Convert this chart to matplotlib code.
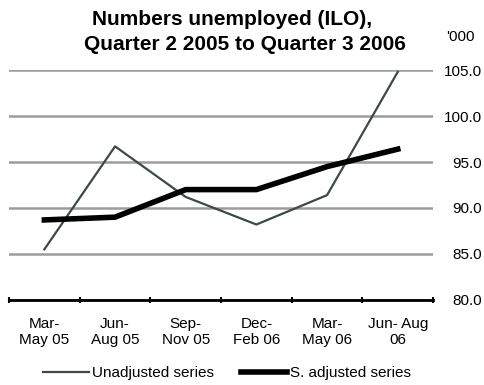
import matplotlib.pyplot as plt
import numpy as np

plt.rcParams['font.family'] = ['Liberation Sans', 'DejaVu Sans']

# Data (thousands)
quarters = ['Mar-\nMay 05', 'Jun-\nAug 05', 'Sep-\nNov 05', 'Dec-\nFeb 06', 'Mar-\nMay 06', 'Jun- Aug\n06']
unadjusted = [85.5, 96.7, 91.2, 88.2, 91.4, 104.8]
seasonally_adjusted = [88.7, 89.0, 92.0, 92.0, 94.5, 96.4]
y_ticks = [80, 85, 90, 95, 100, 105]

fig = plt.figure(figsize=(4.85, 3.85), dpi=100)
ax = fig.add_axes([0.0186, 0.221, 0.8744, 0.597])

x = np.arange(len(quarters))
ax.plot(x, unadjusted, color='#3d4848', linewidth=1.6, label='Unadjusted series')
ax.plot(x, seasonally_adjusted, color='black', linewidth=4, label='S. adjusted series')

ax.set_xlim(-0.5, len(quarters) - 0.5)
ax.set_ylim(80, 105)
ax.set_yticks(y_ticks)
ax.set_yticklabels(['%.1f' % v for v in y_ticks], fontsize=11, ha='right')
ax.yaxis.tick_right()
ax.tick_params(axis='y', length=0, pad=35)
ax.grid(axis='y', color='#9c9c9c', linewidth=1.8)
ax.set_axisbelow(True)

ax.set_xticks(x)
ax.set_xticklabels(quarters, fontsize=11, linespacing=1.25)
ax.set_xticks(np.arange(-0.5, len(quarters)), minor=True)
ax.tick_params(axis='x', which='major', length=0, pad=12)
ax.tick_params(axis='x', which='minor', length=5, width=1.5, direction='inout', color='black')

for s in ['left', 'right', 'top']:
    ax.spines[s].set_visible(False)
ax.spines['bottom'].set_linewidth(2)
ax.spines['bottom'].set_color('black')

fig.text(0.478, 0.95, 'Numbers unemployed (ILO),', ha='center', va='center',
         fontsize=15, fontweight='bold')
fig.text(0.505, 0.885, 'Quarter 2 2005 to Quarter 3 2006', ha='center', va='center',
         fontsize=15, fontweight='bold')
fig.text(0.949, 0.905, "'000", ha='center', va='center', fontsize=11)

fig.legend(loc='center', bbox_to_anchor=(0.468, 0.031), ncol=2, frameon=False,
           fontsize=11, handlelength=3.0, handletextpad=0.2, columnspacing=1.8)

fig.savefig('out.png', dpi=100)
